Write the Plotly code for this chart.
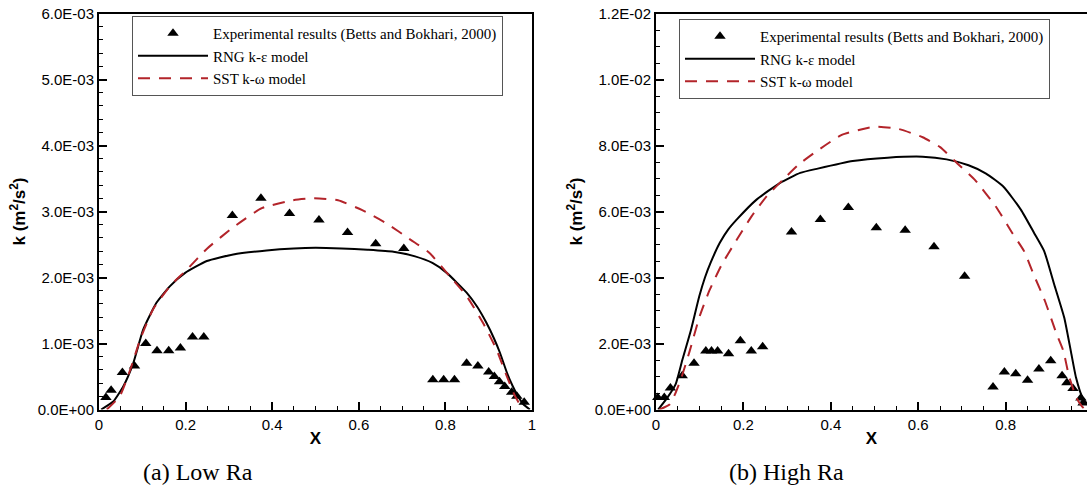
import plotly.graph_objects as go

# ---------------- data (k in units of 1E-03 m^2/s^2) ----------------
# (a) Low Ra
low_exp_x = [0.016, 0.028, 0.054, 0.082, 0.108, 0.134, 0.161, 0.188, 0.216, 0.242,
             0.308, 0.374, 0.440, 0.508, 0.574, 0.639, 0.704,
             0.771, 0.796, 0.821, 0.849, 0.875, 0.900, 0.913, 0.925, 0.937, 0.953, 0.965, 0.982]
low_exp_k = [0.18, 0.29, 0.56, 0.66, 1.00, 0.89, 0.89, 0.93, 1.10, 1.10,
             2.94, 3.20, 2.97, 2.87, 2.68, 2.51, 2.44,
             0.45, 0.45, 0.45, 0.70, 0.66, 0.57, 0.50, 0.42, 0.35, 0.26, 0.20, 0.11]

low_rng_x = [0.005, 0.033, 0.056, 0.079, 0.102, 0.133, 0.164, 0.199, 0.249, 0.31, 0.387,
             0.45, 0.50, 0.56, 0.62, 0.68, 0.73, 0.77, 0.803, 0.849, 0.873, 0.895,
             0.912, 0.926, 0.942, 0.955, 0.966, 0.980, 0.995]
low_rng_k = [0.0, 0.12, 0.35, 0.70, 1.21, 1.62, 1.87, 2.07, 2.25, 2.35, 2.41,
             2.44, 2.45, 2.44, 2.42, 2.39, 2.32, 2.22, 2.07, 1.77, 1.56, 1.31,
             1.08, 0.86, 0.56, 0.36, 0.22, 0.08, 0.0]

low_sst_x = [0.018, 0.048, 0.072, 0.095, 0.125, 0.164, 0.203, 0.25, 0.312, 0.376, 0.448,
             0.496, 0.552, 0.608, 0.664, 0.72, 0.762, 0.81, 0.849, 0.887, 0.918, 0.942,
             0.961, 0.976]
low_sst_k = [0.0, 0.20, 0.60, 1.06, 1.52, 1.87, 2.12, 2.44, 2.77, 3.05, 3.17,
             3.20, 3.17, 3.02, 2.82, 2.57, 2.38, 2.02, 1.72, 1.31, 0.91, 0.50,
             0.20, 0.03]

# (b) High Ra
high_exp_x = [0.004, 0.019, 0.033, 0.060, 0.087, 0.114, 0.127, 0.141, 0.166, 0.193, 0.218, 0.244,
              0.310, 0.376, 0.440, 0.504, 0.570, 0.636, 0.706,
              0.771, 0.797, 0.823, 0.850, 0.876, 0.903, 0.929, 0.940, 0.954, 0.972, 0.977]
high_exp_k = [0.36, 0.36, 0.65, 1.02, 1.40, 1.77, 1.77, 1.77, 1.69, 2.08, 1.77, 1.90,
              5.38, 5.76, 6.12, 5.51, 5.43, 4.93, 4.04,
              0.68, 1.14, 1.08, 0.89, 1.23, 1.48, 1.02, 0.81, 0.64, 0.35, 0.20]

high_rng_x = [0.005, 0.026, 0.045, 0.060, 0.080, 0.099, 0.112, 0.125, 0.146, 0.165, 0.185, 0.23,
              0.284, 0.33, 0.37, 0.45, 0.53, 0.61, 0.665, 0.715, 0.755, 0.795, 0.835, 0.865, 0.888,
              0.911, 0.934, 0.949, 0.961, 0.976, 0.988, 1.0]
high_rng_k = [0.0, 0.36, 0.77, 1.49, 2.41, 3.43, 4.00, 4.45, 5.05, 5.45, 5.76, 6.36,
              6.87, 7.17, 7.30, 7.53, 7.63, 7.66, 7.58, 7.40, 7.15, 6.75, 6.05, 5.35, 4.80,
              3.79, 2.78, 1.77, 0.96, 0.35, 0.15, 0.0]

high_sst_x = [0.008, 0.031, 0.043, 0.058, 0.077, 0.100, 0.122, 0.150, 0.185, 0.219, 0.253, 0.291,
              0.326, 0.37, 0.425, 0.50, 0.555, 0.61, 0.65, 0.69, 0.73, 0.78, 0.815, 0.842, 0.864,
              0.89, 0.917, 0.932, 0.945, 0.962, 0.974, 0.982]
high_sst_k = [0.0, 0.15, 0.45, 0.96, 1.77, 2.83, 3.60, 4.38, 5.15, 5.86, 6.46, 6.97,
              7.42, 7.85, 8.32, 8.57, 8.50, 8.25, 7.95, 7.45, 6.95, 6.10, 5.35, 4.80, 4.09,
              3.28, 2.27, 1.77, 1.00, 0.35, 0.10, 0.0]

# ticks
x_tickvals = [0, 0.2, 0.4, 0.6, 0.8, 1.0]
x_ticktext = ["0", "0.2", "0.4", "0.6", "0.8", "1"]
low_ytickvals = [0, 1, 2, 3, 4, 5, 6]
low_yticktext = ["0.0E+00", "1.0E-03", "2.0E-03", "3.0E-03", "4.0E-03", "5.0E-03", "6.0E-03"]
high_ytickvals = [0, 2, 4, 6, 8, 10, 12]
high_yticktext = ["0.0E+00", "2.0E-03", "4.0E-03", "6.0E-03", "8.0E-03", "1.0E-02", "1.2E-02"]

legend_names = ["Experimental results (Betts and Bokhari, 2000)", "RNG k-\u03b5 model", "SST k-\u03c9 model"]
captions = ["(a) Low Ra", "(b) High Ra"]

# ---------------- figure ----------------
W, H = 1087, 502
RED = "#b3242a"
fig = go.Figure()

def px_x(p):
    return p / W

def px_y(p):
    return 1 - p / H

def add_panel(xa, ya, leg, ex, ek, rx, rk, sx, sk):
    fig.add_trace(go.Scatter(x=ex, y=ek, mode="markers", name=legend_names[0],
                             marker=dict(symbol="triangle-up", size=10, color="black"),
                             cliponaxis=False, xaxis=xa, yaxis=ya, legend=leg))
    fig.add_trace(go.Scatter(x=rx, y=rk, mode="lines", name=legend_names[1],
                             line=dict(color="black", width=2, shape="spline", smoothing=0.5),
                             xaxis=xa, yaxis=ya, legend=leg))
    fig.add_trace(go.Scatter(x=sx, y=sk, mode="lines", name=legend_names[2],
                             line=dict(color=RED, width=2, dash="12px,9px", shape="spline", smoothing=0.5),
                             xaxis=xa, yaxis=ya, legend=leg))

add_panel("x", "y", "legend", low_exp_x, low_exp_k, low_rng_x, low_rng_k, low_sst_x, low_sst_k)
add_panel("x2", "y2", "legend2", high_exp_x, high_exp_k, high_rng_x, high_rng_k, high_sst_x, high_sst_k)

tickfont = dict(family="Liberation Sans, Arial", size=15, color="black")
titlefont = dict(family="Liberation Sans, Arial", size=17, color="black")
ydom = [px_y(409.5), px_y(13.5)]

common_x = dict(showgrid=False, zeroline=False, showline=True, linecolor="black", linewidth=2,
                ticks="inside", ticklen=8, tickwidth=1.5, tickcolor="black",
                tickmode="array", tickvals=x_tickvals, ticktext=x_ticktext, tickfont=tickfont,
                minor=dict(ticks="inside", ticklen=4, tickwidth=1, tickcolor="black",
                           tickmode="linear", tick0=0, dtick=0.05),
                title=dict(text="<b>X</b>", font=titlefont, standoff=1),
                ticklabeloverflow="allow", automargin=False, mirror=True)
common_y = dict(showgrid=False, zeroline=False, showline=True, linecolor="black", linewidth=2,
                ticks="inside", ticklen=8, tickwidth=1.5, tickcolor="black", tickfont=tickfont,
                title=dict(text="<b>k (m<sup>2</sup>/s<sup>2</sup>)</b>", font=titlefont, standoff=8),
                ticklabeloverflow="allow", automargin=False, domain=ydom)
legfont = dict(family="Liberation Serif, Times New Roman", size=15, color="black")

fig.update_layout(
    width=W, height=H, margin=dict(l=0, r=0, t=0, b=0),
    paper_bgcolor="white", plot_bgcolor="white", showlegend=True,
    xaxis=dict(common_x, domain=[px_x(99), px_x(532)], range=[0, 1], anchor="y"),
    yaxis=dict(common_y, range=[0, 6], tickmode="array", tickvals=low_ytickvals,
               ticktext=low_yticktext, mirror=True, anchor="x",
               minor=dict(ticks="inside", ticklen=4, tickwidth=1, tickcolor="black",
                          tickmode="linear", tick0=0, dtick=0.2)),
    xaxis2=dict(common_x, domain=[px_x(656), 1.0], range=[0, 0.986], anchor="y2"),
    yaxis2=dict(common_y, range=[0, 12], tickmode="array", tickvals=high_ytickvals,
                ticktext=high_yticktext, mirror=False, anchor="x2",
                minor=dict(ticks="inside", ticklen=4, tickwidth=1, tickcolor="black",
                           tickmode="linear", tick0=0, dtick=0.5)),
    legend=dict(x=px_x(132), y=px_y(16), xanchor="left", yanchor="top",
                bgcolor="white", bordercolor="#555555", borderwidth=1,
                font=legfont, itemwidth=70, tracegroupgap=0),
    legend2=dict(x=px_x(679), y=px_y(19), xanchor="left", yanchor="top",
                 bgcolor="white", bordercolor="#555555", borderwidth=1,
                 font=legfont, itemwidth=70, tracegroupgap=0),
)

for cx, txt in zip([198, 786], captions):
    fig.add_annotation(text=txt, x=px_x(cx), y=px_y(472), xref="paper", yref="paper",
                       showarrow=False, xanchor="center", yanchor="middle",
                       font=dict(family="Liberation Serif, Times New Roman", size=24, color="black"))

# remove the default 8px page margin so the figure fills the window exactly
fig.write_html("out.html", config={"displayModeBar": False},
               post_script="document.body.style.margin='0px';")
